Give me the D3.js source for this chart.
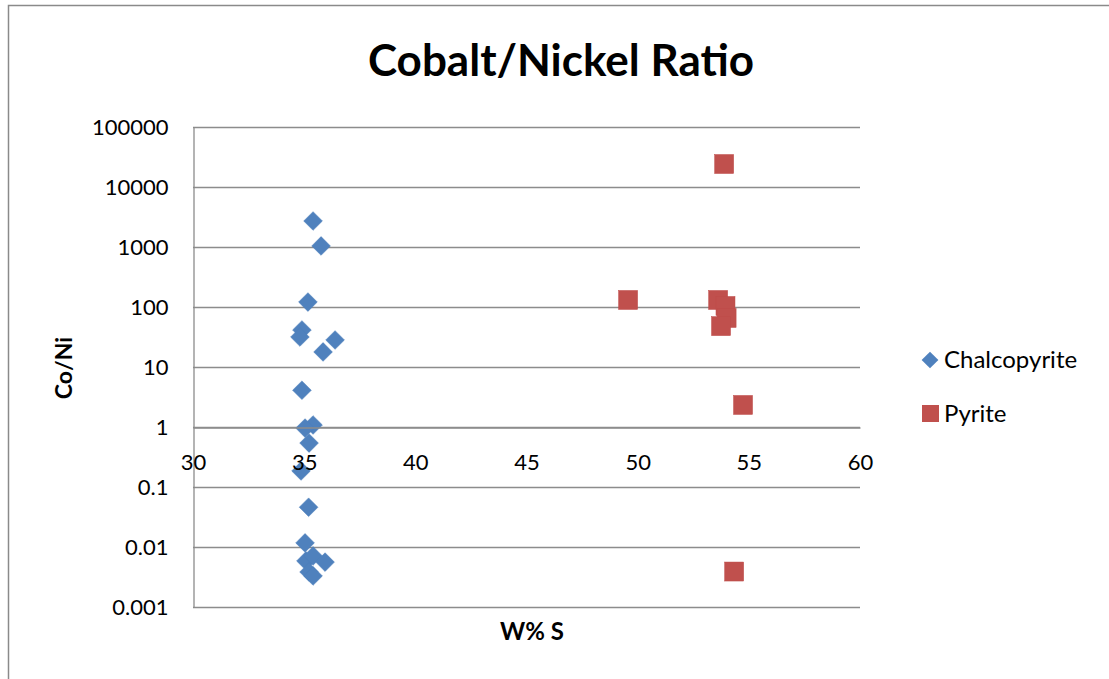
<!DOCTYPE html>
<html><head><meta charset="utf-8">
<script src="https://cdn.jsdelivr.net/npm/d3@7"></script>
<style>body{margin:0;background:#fff}svg{display:block;font-family:Lato,"Open Sans",sans-serif}</style>
</head><body>
<svg id="c" width="1109" height="679"></svg>
<script>
const chalcoX = [35.4, 35.76, 35.17, 34.9, 34.81, 36.39, 35.85, 34.9, 35.4, 35.04, 35.22, 34.86, 35.2, 35.04, 35.08, 35.4, 35.94, 35.22, 35.4];
const chalcoY = [2712, 1040, 121, 41.4, 31.6, 28.2, 17.8, 4.1, 1.08, 0.96, 0.54, 0.185, 0.046, 0.0117, 0.00585, 0.0071, 0.0056, 0.00383, 0.00329];
const pyriteX = [53.89, 49.57, 53.62, 53.95, 54.0, 53.75, 54.74, 54.34];
const pyriteY = [24155, 131, 131, 104, 65.6, 48, 2.33, 0.0039];
const xTicks = [30, 35, 40, 45, 50, 55, 60];
const yTicks = [100000, 10000, 1000, 100, 10, 1, 0.1, 0.01, 0.001];
const seriesNames = ["Chalcopyrite", "Pyrite"];

const svg = d3.select("#c");
const L = 193, R = 860, T = 127, B = 607;
const x = d3.scaleLinear().domain([30, 60]).range([L, R]);
const y = d3.scaleLog().domain([0.001, 100000]).range([B, T]);
const grid = "#8c8c8c";

// outer frame
svg.append("path").attr("d", "M8.5,679 L8.5,5.5 L1109,5.5").attr("fill", "none").attr("stroke", "#8a8a8a").attr("stroke-width", 1.5);

// title
svg.append("text").attr("x", 561).attr("y", 76).attr("text-anchor", "middle")
  .attr("font-size", 44).attr("font-weight", "bold").text("Cobalt/Nickel Ratio");

// gridlines
svg.append("g").selectAll("line").data(yTicks).join("line")
  .attr("x1", L).attr("x2", R).attr("y1", d => Math.round(y(d)) + 0.5).attr("y2", d => Math.round(y(d)) + 0.5)
  .attr("stroke", grid).attr("stroke-width", 1.3);

// y axis
const ya = d3.axisLeft(y).tickValues(yTicks).tickFormat(d => String(d)).tickSize(0).tickPadding(25);
const gy = svg.append("g").attr("transform", `translate(${L + 0.5},0)`).call(ya);
gy.select(".domain").attr("stroke", grid).attr("stroke-width", 1.3);
gy.selectAll("text").attr("font-size", 22).attr("font-family", "Lato,sans-serif").attr("fill", "#000");

// markers
const chalco = chalcoX.map((v, i) => [v, chalcoY[i]]);
const pyr = pyriteX.map((v, i) => [v, pyriteY[i]]);
svg.append("g").selectAll("path").data(chalco).join("path")
  .attr("d", d3.symbol().type(d3.symbolSquare).size(175)())
  .attr("transform", d => `translate(${x(d[0])},${y(d[1])}) rotate(45)`)
  .attr("fill", "#4F81BD").attr("stroke", "#4A7EBB").attr("stroke-width", 0.5);
svg.append("g").selectAll("rect").data(pyr).join("rect")
  .attr("x", d => x(d[0]) - 9.5).attr("y", d => y(d[1]) - 9.5).attr("width", 19).attr("height", 19)
  .attr("fill", "#C0504D").attr("stroke", "#BE4B48").attr("stroke-width", 0.5);

// x axis crossing at 1 (drawn above markers, like the reference)
const xa = d3.axisBottom(x).tickValues(xTicks).tickSize(0).tickPadding(27);
const gx = svg.append("g").attr("transform", `translate(0,${Math.round(y(1)) + 0.5})`).call(xa);
gx.select(".domain").attr("stroke", grid).attr("stroke-width", 1.3);
gx.selectAll("text").attr("font-size", 22).attr("font-family", "Lato,sans-serif").attr("fill", "#000");

// axis titles
svg.append("text").attr("x", 532).attr("y", 640).attr("text-anchor", "middle").attr("font-size", 24).attr("font-weight", "bold").text("W% S");
svg.append("text").attr("transform", "translate(72,368) rotate(-90)").attr("text-anchor", "middle").attr("font-size", 23).attr("font-weight", "bold").text("Co/Ni");

// legend
const lg = svg.append("g");
lg.append("path").attr("d", d3.symbol().type(d3.symbolSquare).size(140)()).attr("transform", "translate(930,360) rotate(45)").attr("fill", "#4F81BD");
lg.append("text").attr("x", 944).attr("y", 368).attr("font-size", 24).text(seriesNames[0]);
lg.append("rect").attr("x", 922).attr("y", 405).attr("width", 17).attr("height", 17).attr("fill", "#C0504D");
lg.append("text").attr("x", 944).attr("y", 422).attr("font-size", 24).text(seriesNames[1]);
</script>
</body></html>
